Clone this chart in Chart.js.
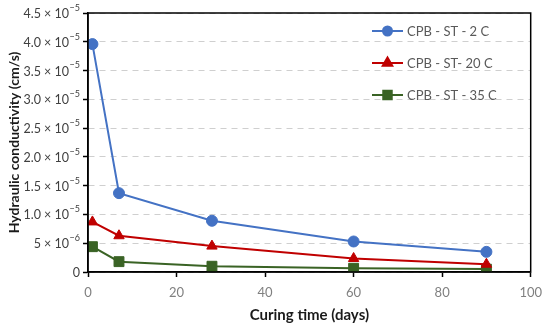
<!DOCTYPE html>
<html>
<head>
<meta charset="utf-8">
<script src="https://cdn.jsdelivr.net/npm/chart.js@4/dist/chart.umd.min.js"></script>
<style>
html,body{margin:0;padding:0;background:#fff;}
#wrap{width:550px;height:328px;position:relative;}
</style>
</head>
<body>
<div id="wrap"><canvas id="c" width="550" height="328"></canvas></div>
<script>
const days = [1, 7, 28, 60, 90];
const st2C  = [3.96e-5, 1.37e-5, 0.89e-5, 0.53e-5, 0.35e-5];
const st20C = [0.87e-5, 0.63e-5, 0.45e-5, 0.235e-5, 0.135e-5];
const st35C = [0.44e-5, 0.18e-5, 0.10e-5, 0.065e-5, 0.05e-5];
const seriesNames = ['CPB - ST - 2 C', 'CPB - ST- 20 C', 'CPB - ST - 35 C'];
const yTickBase = ['0', '5 \u00d7 10', '1.0 \u00d7 10', '1.5 \u00d7 10', '2.0 \u00d7 10',
  '2.5 \u00d7 10', '3.0 \u00d7 10', '3.5 \u00d7 10', '4.0 \u00d7 10', '4.5 \u00d7 10'];
const yTickExp = ['', '\u22126', '\u22125', '\u22125', '\u22125', '\u22125', '\u22125', '\u22125', '\u22125', '\u22125'];
const xTickLabels = ['0', '20', '40', '60', '80', '100'];

const colors = ['#4472C4', '#C00000', '#3A6325'];
const shapes = ['circle', 'triangle', 'rect'];
const radii = [5.5, 6, 7];
const legendRadii = [4.5, 5.5, 6];
const FONT = "Lato, 'Open Sans', 'DejaVu Sans', sans-serif";

function mk(i, arr) {
  return {
    label: seriesNames[i],
    data: days.map((d, k) => ({x: d, y: arr[k]})),
    borderColor: colors[i],
    backgroundColor: colors[i],
    borderWidth: 2,
    pointStyle: shapes[i],
    pointRadius: radii[i],
    pointHoverRadius: radii[i],
    pointBorderWidth: 1,
    tension: 0
  };
}

const frame = {
  id: 'frame',
  afterDraw(chart) {
    const {ctx, chartArea: a} = chart;
    ctx.save();
    ctx.strokeStyle = '#000';
    ctx.lineWidth = 1.5;
    ctx.strokeRect(a.left, a.top, a.right - a.left, a.bottom - a.top);
    // y tick labels with superscript exponent
    const ys = chart.scales.y;
    ctx.textBaseline = 'middle';
    ys.ticks.forEach((t, i) => {
      const y = ys.getPixelForValue(t.value);
      let x = ys.right - 8;
      ctx.fillStyle = '#404040';
      ctx.textAlign = 'right';
      if (yTickExp[i]) {
        ctx.font = "9px " + FONT;
        ctx.fillText(yTickExp[i], x, y - 5);
        x -= ctx.measureText(yTickExp[i]).width + 0.5;
      }
      ctx.font = "12.5px " + FONT;
      ctx.fillText(yTickBase[i], x, y + 1);
    });
    // legend
    const lx1 = 372, lx2 = 403, ly = [31, 63, 95];
    ctx.textAlign = 'left';
    chart.data.datasets.forEach((ds, i) => {
      const y = ly[i];
      ctx.strokeStyle = ds.borderColor;
      ctx.lineWidth = 2;
      ctx.beginPath(); ctx.moveTo(lx1, y); ctx.lineTo(lx2, y); ctx.stroke();
      ctx.fillStyle = ds.backgroundColor;
      Chart.helpers.drawPoint(ctx, {pointStyle: ds.pointStyle, radius: legendRadii[i], borderWidth: 1}, (lx1 + lx2) / 2, y);
      ctx.font = "13px " + FONT;
      ctx.fillStyle = '#595959';
      ctx.fillText(ds.label, 407, y + 1);
    });
    ctx.restore();
  }
};

new Chart(document.getElementById('c'), {
  type: 'line',
  data: { datasets: [mk(0, st2C), mk(1, st20C), mk(2, st35C)] },
  options: {
    responsive: false,
    animation: false,
    layout: { padding: { left: 2, top: 13, right: 16, bottom: 0 } },
    plugins: { legend: { display: false }, tooltip: { enabled: false } },
    scales: {
      x: {
        type: 'linear', min: 0, max: 100,
        ticks: { stepSize: 20, color: '#808080', font: { family: FONT, size: 13 }, padding: 8,
          callback: (v, i) => xTickLabels[i] },
        grid: { drawOnChartArea: false, drawTicks: true, tickLength: 5, tickColor: '#000', tickWidth: 1.5 },
        border: { display: true, color: '#000', width: 1.5 },
        title: { display: true, text: 'Curing time (days)', color: '#1a1a1a', font: { family: FONT, size: 15, weight: 'bold' }, padding: { top: 0 } },
        afterFit(s) { s.height = 56; }
      },
      y: {
        min: 0, max: 4.5e-5,
        ticks: { stepSize: 5e-6, display: false },
        grid: { color: '#cfcfcf', lineWidth: 1, tickLength: 5, tickColor: '#000', tickWidth: 1.5, tickBorderDash: [] },
        border: { display: true, color: '#000', width: 1.5, dash: [6, 5] },
        title: { display: true, text: 'Hydraulic conductivity (cm/s)', color: '#1a1a1a', font: { family: FONT, size: 14, weight: 'bold' }, padding: { bottom: 0 } },
        afterFit(s) { s.width = 86; }
      }
    }
  },
  plugins: [frame]
});
</script>
</body>
</html>
